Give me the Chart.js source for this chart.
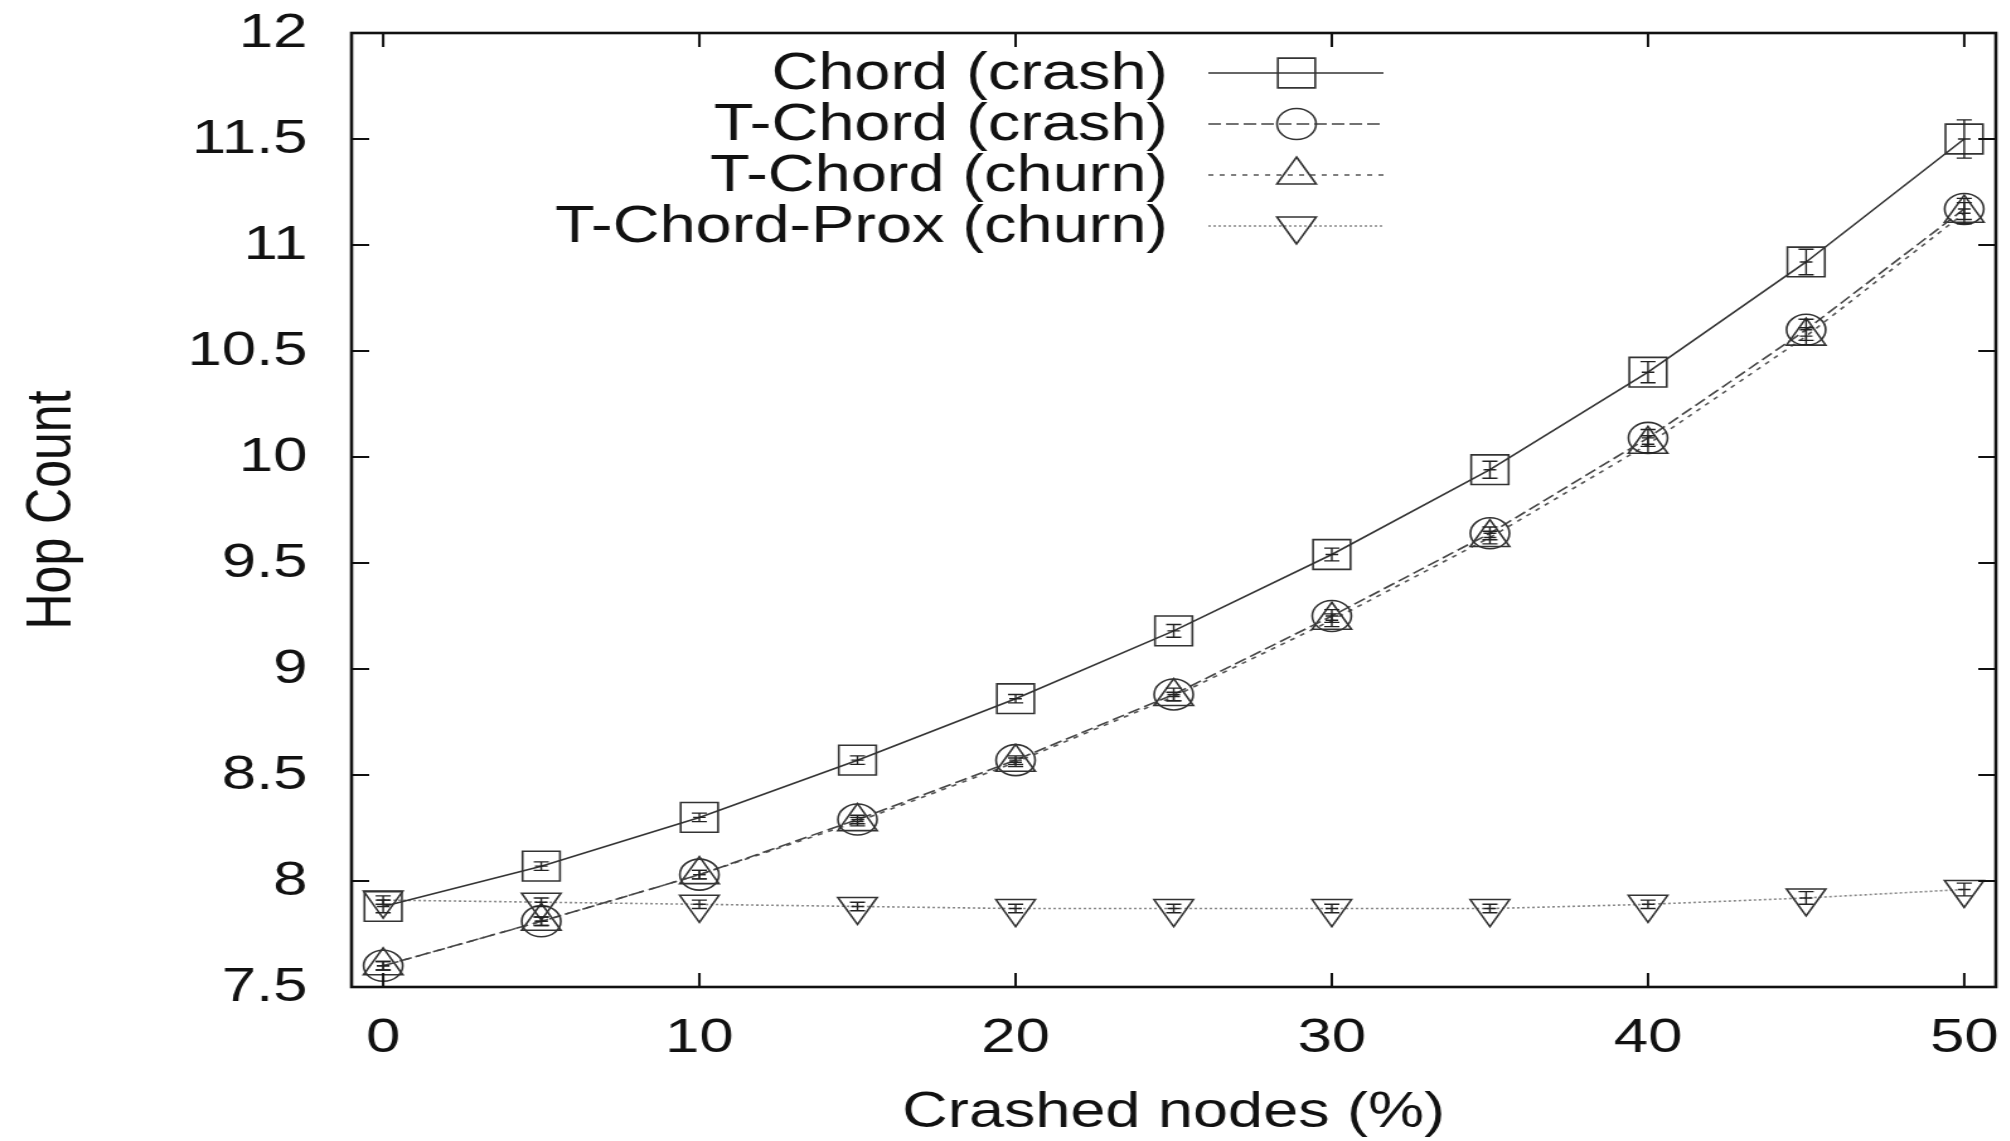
<!DOCTYPE html>
<html>
<head>
<meta charset="utf-8">
<title>Hop Count vs Crashed nodes</title>
<script src="https://cdn.jsdelivr.net/npm/chart.js@4.4.0/dist/chart.umd.min.js"></script>
<style>
    html, body { margin: 0; padding: 0; background: #fff; overflow: hidden; }
    /* the source figure is stretched sideways, so the whole chart is too */
    .wrap { width: 1595px; height: 1141px; transform: scaleX(1.26); transform-origin: 0 0; }
</style>
</head>
<body>
<div class="wrap"><canvas id="hopChart" width="1595" height="1141"></canvas></div>
<script>
const xValues = [0, 5, 10, 15, 20, 25, 30, 35, 40, 45, 50];
const xTicks = [0, 10, 20, 30, 40, 50];
const yTicks = [7.5, 8, 8.5, 9, 9.5, 10, 10.5, 11, 11.5, 12];

const chordCrash = [7.88, 8.07, 8.30, 8.57, 8.86, 9.18, 9.54, 9.94, 10.40, 10.92, 11.50];
const tchordCrash = [7.60, 7.81, 8.03, 8.29, 8.57, 8.88, 9.25, 9.64, 10.09, 10.60, 11.17];
const tchordChurn = [7.60, 7.81, 8.03, 8.28, 8.56, 8.87, 9.23, 9.62, 10.06, 10.57, 11.15];
const tchordProxChurn = [7.91, 7.90, 7.89, 7.88, 7.87, 7.87, 7.87, 7.87, 7.89, 7.92, 7.96];

// error bar half widths
const chordErr = [0.03, 0.02, 0.02, 0.02, 0.02, 0.03, 0.03, 0.04, 0.05, 0.06, 0.09];
const tchordCrashErr = [0.02, 0.02, 0.02, 0.02, 0.02, 0.03, 0.03, 0.03, 0.04, 0.05, 0.05];
const tchordChurnErr = [0.02, 0.02, 0.02, 0.02, 0.02, 0.02, 0.03, 0.03, 0.04, 0.04, 0.05];
const proxErr = [0.02, 0.02, 0.02, 0.02, 0.02, 0.02, 0.02, 0.02, 0.02, 0.03, 0.03];

const seriesLabels = ['Chord (crash)', 'T-Chord (crash)', 'T-Chord (churn)', 'T-Chord-Prox (churn)'];
const seriesDashes = [[], [10, 4], [4, 5], [2, 2]];

const FONT = "'Liberation Sans', Arial, Helvetica, sans-serif";

const toPoints = (ys) => ys.map((y, i) => ({ x: xValues[i], y: y }));

const makeSet = (label, ys, errs, dash, color, style, radius, rotation) => ({
    label: label,
    data: toPoints(ys),
    errors: errs,
    borderColor: color,
    borderWidth: 1.6,
    borderDash: dash,
    pointStyle: style,
    pointRadius: radius,
    pointRotation: rotation,
    pointBorderColor: '#333',
    pointBackgroundColor: 'rgba(0,0,0,0)',
    pointBorderWidth: 1.6,
    tension: 0,
    fill: false,
    clip: false
});

// inward ticks on all four sides plus the frame
const framePlugin = {
    id: 'frame',
    afterDraw(chart) {
        const { ctx, chartArea: a, scales } = chart;
        const len = 14;
        ctx.save();
        ctx.strokeStyle = '#111';
        ctx.lineWidth = 2;
        ctx.beginPath();
        yTicks.forEach(v => {
            const y = scales.y.getPixelForValue(v);
            ctx.moveTo(a.left, y); ctx.lineTo(a.left + len, y);
            ctx.moveTo(a.right, y); ctx.lineTo(a.right - len, y);
        });
        xTicks.forEach(v => {
            const x = scales.x.getPixelForValue(v);
            ctx.moveTo(x, a.bottom); ctx.lineTo(x, a.bottom - len);
            ctx.moveTo(x, a.top); ctx.lineTo(x, a.top + len);
        });
        ctx.stroke();
        ctx.lineWidth = 2.6;
        ctx.strokeRect(a.left, a.top, a.right - a.left, a.bottom - a.top);
        ctx.restore();
    }
};

const errorBarPlugin = {
    id: 'errorBars',
    afterDatasetsDraw(chart) {
        const { ctx, scales } = chart;
        ctx.save();
        ctx.strokeStyle = '#222';
        ctx.lineWidth = 1.4;
        chart.data.datasets.forEach((ds, i) => {
            const meta = chart.getDatasetMeta(i);
            meta.data.forEach((pt, j) => {
                const v = ds.data[j].y;
                const e = ds.errors[j];
                const yTop = scales.y.getPixelForValue(v + e);
                const yBot = scales.y.getPixelForValue(v - e);
                const x = pt.x;
                ctx.beginPath();
                ctx.moveTo(x, yTop); ctx.lineTo(x, yBot);
                ctx.moveTo(x - 6, yTop); ctx.lineTo(x + 6, yTop);
                ctx.moveTo(x - 6, yBot); ctx.lineTo(x + 6, yBot);
                ctx.moveTo(x - 5, pt.y); ctx.lineTo(x + 5, pt.y);
                ctx.stroke();
            });
        });
        ctx.restore();
    }
};

// gnuplot style key: text on the left, sample on the right
const keyPlugin = {
    id: 'gnuKey',
    afterDraw(chart) {
        const { ctx } = chart;
        const rowsY = [73, 124, 175, 226];
        const textRight = 927, lineFrom = 959, lineTo = 1098, markX = 1029;
        ctx.save();
        ctx.font = '51.5px ' + FONT;
        ctx.textAlign = 'right';
        ctx.textBaseline = 'middle';
        chart.data.datasets.forEach((ds, i) => {
            const y = rowsY[i];
            const pOpts = chart.getDatasetMeta(i).data[0].options;
            ctx.fillStyle = '#111';
            ctx.fillText(ds.label, textRight, y + 2);
            ctx.strokeStyle = ds.borderColor;
            ctx.lineWidth = ds.borderWidth;
            ctx.setLineDash(seriesDashes[i]);
            ctx.beginPath();
            ctx.moveTo(lineFrom, y);
            ctx.lineTo(lineTo, y);
            ctx.stroke();
            ctx.setLineDash([]);
            ctx.strokeStyle = '#333';
            ctx.fillStyle = 'rgba(0,0,0,0)';
            ctx.lineWidth = pOpts.borderWidth;
            Chart.helpers.drawPoint(ctx, {
                pointStyle: pOpts.pointStyle,
                rotation: pOpts.rotation,
                radius: pOpts.radius,
                borderWidth: pOpts.borderWidth
            }, markX, y);
        });
        ctx.restore();
    }
};

const buildChart = () => {
    const canvas = document.querySelector('#hopChart');
    const datasets = [
        makeSet(seriesLabels[0], chordCrash, chordErr, seriesDashes[0], '#333', 'rect', 21, 0),
        makeSet(seriesLabels[1], tchordCrash, tchordCrashErr, seriesDashes[1], '#444', 'circle', 15.5, 0),
        makeSet(seriesLabels[2], tchordChurn, tchordChurnErr, seriesDashes[2], '#555', 'triangle', 18, 0),
        makeSet(seriesLabels[3], tchordProxChurn, proxErr, seriesDashes[3], '#888', 'triangle', 18, 180)
    ];

    new Chart(canvas, {
        type: 'line',
        data: { datasets: datasets },
        options: {
            responsive: false,
            maintainAspectRatio: false,
            animation: false,
            layout: { autoPadding: false, padding: { top: 33, right: 11, bottom: 0, left: 0 } },
            plugins: {
                legend: { display: false },
                tooltip: { enabled: false }
            },
            scales: {
                x: {
                    type: 'linear',
                    min: -1,
                    max: 51,
                    afterBuildTicks: (scale) => { scale.ticks = xTicks.map(v => ({ value: v })); },
                    afterFit: (scale) => {
                        scale.height = 154;
                        scale.paddingLeft = 0;
                        scale.paddingRight = 0;
                    },
                    grid: { display: false, drawTicks: false },
                    border: { display: false },
                    ticks: {
                        padding: 22,
                        color: '#111',
                        font: { family: FONT, size: 49 },
                        maxRotation: 0,
                        callback: (v) => String(v)
                    },
                    title: {
                        display: true,
                        text: 'Crashed nodes (%)',
                        color: '#111',
                        font: { family: FONT, size: 50, lineHeight: 1.0 },
                        padding: { top: 0, bottom: 3 }
                    }
                },
                y: {
                    type: 'linear',
                    min: 7.5,
                    max: 12,
                    afterBuildTicks: (scale) => { scale.ticks = yTicks.map(v => ({ value: v })); },
                    afterFit: (scale) => {
                        scale.width = 279;
                        scale.paddingTop = 0;
                        scale.paddingBottom = 0;
                    },
                    grid: { display: false, drawTicks: false },
                    border: { display: false },
                    ticks: {
                        padding: 35,
                        color: '#111',
                        font: { family: FONT, size: 49 },
                        callback: (v) => String(v)
                    },
                    title: {
                        display: true,
                        text: 'Hop Count',
                        color: '#111',
                        font: { family: FONT, size: 50, lineHeight: 1.2 },
                        padding: { top: 12, bottom: 0 }
                    }
                }
            }
        },
        plugins: [framePlugin, errorBarPlugin, keyPlugin]
    });
};

buildChart();
</script>
</body>
</html>
